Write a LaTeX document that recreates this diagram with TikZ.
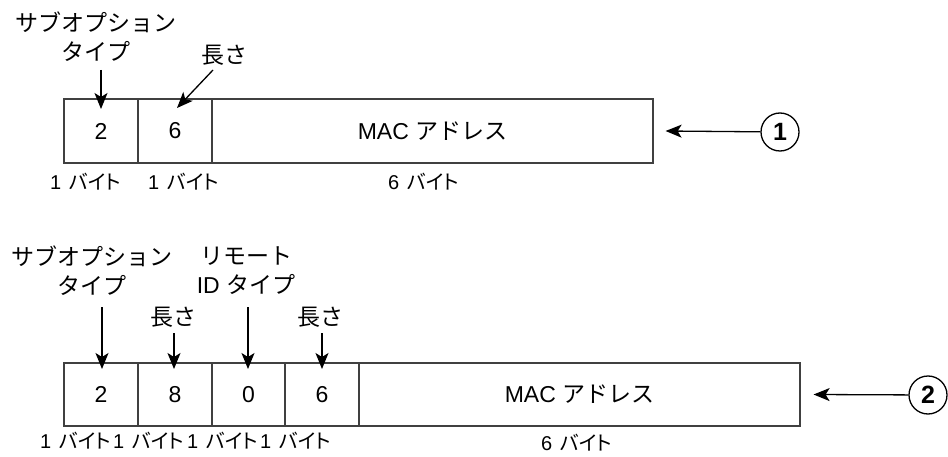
\documentclass[tikz,border=0pt]{standalone}
\usepackage{fontspec}
\setmainfont{Liberation Sans}
\newfontfamily\jp{Noto Sans CJK JP}
\newfontfamily\jpp[RawFeature=+palt]{Noto Sans CJK JP}
\usetikzlibrary{arrows.meta,calc}
\begin{document}
\begin{tikzpicture}[x=1pt,y=-1pt,
  cell/.style={draw=black!75, line width=1.2pt, minimum height=64pt, inner sep=0pt, font=\fontsize{23}{26}\selectfont},
  lab/.style={font=\fontsize{23}{29}\selectfont, align=center, inner sep=0pt},
  byte/.style={font=\fontsize{20}{24}\selectfont, inner sep=0pt, anchor=west},
  arr/.style={line width=1.3pt, -{Stealth[length=16pt,width=13pt,inset=4pt]}},
  num/.style={circle, draw, line width=1.3pt, minimum size=38pt, inner sep=0pt, font=\fontsize{25}{28}\selectfont\bfseries}]
\useasboundingbox (0,0) rectangle (948,457);
% ---- top frame ----
\node[cell, minimum width=74pt] (c1) at (101,131) {2};
\node[cell, minimum width=74pt] (c2) at (175,131) {6};
\node[cell, minimum width=441pt] (c3) at (432.5,131) {MAC {\jp アドレス}};
\node[byte] (b1) at (50,182) {1\hspace{0.4em}{\jpp バイト}};
\node[byte] (b2) at (148,182) {1\hspace{0.4em}{\jpp バイト}};
\node[byte] (b3) at (388,182) {6\hspace{0.4em}{\jpp バイト}};
\node[lab] (t1) at (96,37) {{\jp サブオプション}\\{\jp タイプ}};
\node[lab] (t2) at (224,55) {{\jp 長さ}};
\coordinate (s1) at (101,70);
\coordinate (e1) at (101,109);
\coordinate (s2) at (213,70);
\coordinate (e2) at (177,108);
\draw[arr] (s1) -- (e1);
\draw[arr] (s2) -- (e2);
\node[num] (n1) at (780,132) {1};
\coordinate (p1) at ($(c3.east)+(12,0)$);
\draw[arr] (n1) -- (p1);
% ---- bottom frame ----
\node[cell, minimum width=74pt, minimum height=63pt] (d1) at (101,394.5) {2};
\node[cell, minimum width=74pt, minimum height=63pt] (d2) at (175,394.5) {8};
\node[cell, minimum width=73pt, minimum height=63pt] (d3) at (248.5,394.5) {0};
\node[cell, minimum width=74pt, minimum height=63pt] (d4) at (322,394.5) {6};
\node[cell, minimum width=441pt, minimum height=63pt] (d5) at (579.5,394.5) {MAC {\jp アドレス}};
\node[byte] (f1) at (40,441) {1\hspace{0.4em}{\jpp バイト}};
\node[byte] (f2) at (113,441) {1\hspace{0.4em}{\jpp バイト}};
\node[byte] (f3) at (187,441) {1\hspace{0.4em}{\jpp バイト}};
\node[byte] (f4) at (260,441) {1\hspace{0.4em}{\jpp バイト}};
\node[byte] (f5) at (541,443) {6\hspace{0.4em}{\jpp バイト}};
\node[lab] (u1) at (92,271) {{\jp サブオプション}\\{\jp タイプ}};
\node[lab] (u2) at (246,271) {{\jp リモート}\\ID {\jp タイプ}};
\node[lab] (u3) at (173,317) {{\jp 長さ}};
\node[lab] (u4) at (320,317) {{\jp 長さ}};
\coordinate (q1) at (102,307);
\coordinate (r1) at (102,369);
\coordinate (q2) at (174,333);
\coordinate (r2) at (174,369);
\coordinate (q3) at (248,307);
\coordinate (r3) at (248,369);
\coordinate (q4) at (322,333);
\coordinate (r4) at (322,369);
\draw[arr] (q1) -- (r1);
\draw[arr] (q2) -- (r2);
\draw[arr] (q3) -- (r3);
\draw[arr] (q4) -- (r4);
\node[num] (n2) at (928,395) {2};
\coordinate (p2) at ($(d5.east)+(13,0)$);
\draw[arr] (n2) -- (p2);
\end{tikzpicture}
\end{document}
